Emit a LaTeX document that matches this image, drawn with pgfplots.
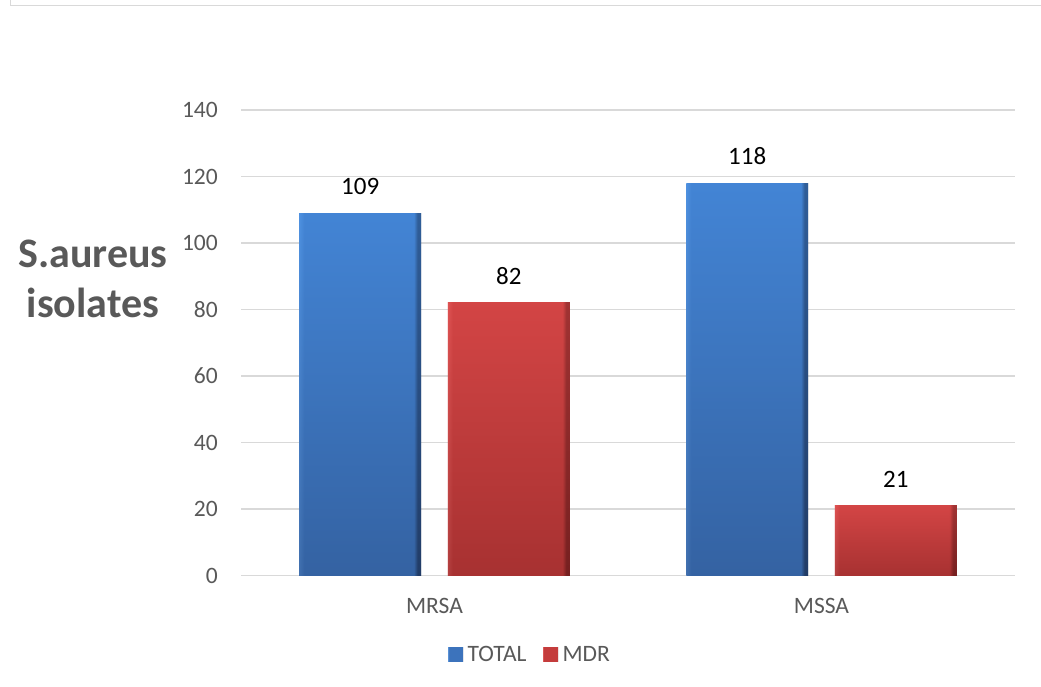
\documentclass[border=0pt]{standalone}
\usepackage{fontspec}
\setmainfont{Carlito}
\usepackage{pgfplots}
\pgfplotsset{compat=1.18}

\definecolor{tickgray}{HTML}{595959}
\definecolor{gridgray}{HTML}{D9D9D9}

% bar faces: a horizontal layer (light left rim, dark right rim) under a
% half-transparent vertical layer (light top, dark bottom)
\definecolor{totalL}{RGB}{84,140,210}
\definecolor{totalM}{RGB}{60,115,188}
\definecolor{totalR}{RGB}{22,38,68}
\definecolor{totalT}{RGB}{74,150,238}
\definecolor{totalB}{RGB}{46,83,138}
\definecolor{mdrL}{RGB}{218,88,88}
\definecolor{mdrM}{RGB}{196,60,60}
\definecolor{mdrR}{RGB}{96,24,24}
\definecolor{mdrT}{RGB}{226,78,78}
\definecolor{mdrB}{RGB}{140,40,40}

\pgfdeclarehorizontalshading{totalh}{100bp}{color(0bp)=(totalL); color(25bp)=(totalL);
  color(27bp)=(totalM); color(72bp)=(totalM); color(73.5bp)=(totalR); color(75bp)=(totalR);
  color(100bp)=(totalR)}
\pgfdeclarehorizontalshading{mdrh}{100bp}{color(0bp)=(mdrL); color(25bp)=(mdrL);
  color(27bp)=(mdrM); color(72bp)=(mdrM); color(73.5bp)=(mdrR); color(75bp)=(mdrR);
  color(100bp)=(mdrR)}

\newcommand{\chartfont}{\fontsize{23.5bp}{28bp}\selectfont}

\pgfplotsset{
  total base/.style={bar shift=-0.192, draw=none, shade, shading=totalh},
  total face/.style={bar shift=-0.192, draw=none, top color=totalT, bottom color=totalB,
     fill opacity=0.5, nodes near coords, forget plot},
  mdr base/.style={bar shift=0.192, draw=none, shade, shading=mdrh},
  mdr face/.style={bar shift=0.192, draw=none, top color=mdrT, bottom color=mdrB,
     fill opacity=0.5, nodes near coords, forget plot},
}

\begin{document}
\begin{tikzpicture}[x=1bp,y=1bp]
\path[use as bounding box] (0,0) rectangle (1041,687);
% chart area frame (top and left edges)
\draw[gridgray, line width=1.5bp] (10.5,687) -- (10.5,681.5) -- (1041,681.5);

\begin{axis}[
  at={(241bp,111.3bp)}, anchor=south west,
  scale only axis, width=774bp, height=465.7bp,
  xmin=-0.5, xmax=1.5, ymin=0, ymax=140,
  xtick={0,1}, xticklabels={MRSA,MSSA},
  ytick={0,20,...,140},
  axis line style={draw=none},
  major tick length=0pt,
  ymajorgrids, grid style={gridgray, line width=1.4bp},
  /pgf/number format/assume math mode=true,
  tick label style={font=\chartfont, text=tickgray, inner sep=0pt},
  yticklabel style={anchor=east, xshift=-23bp},
  xticklabel style={anchor=north, yshift=-22bp},
  ybar,
  bar width=0.315,
  every node near coord/.append style={anchor=south, inner sep=0pt, yshift=18bp,
     font=\fontsize{25bp}{30bp}\selectfont, text=black, text opacity=1,
     fill=none, draw=none},
  legend columns=2,
  legend style={at={(0.375,-0.170)}, anchor=center, draw=none, fill=none,
     font=\chartfont, text=tickgray, inner sep=0pt,
     nodes={inner xsep=4.5bp, inner ysep=2bp},
     /tikz/every even column/.append style={column sep=12bp}},
  legend image code/.code={\fill[#1] (0bp,-7bp) rectangle (15bp,7bp);},
]
% TOTAL: one plot per bar so that each face is shaded on its own
\addplot[total base] coordinates {(0,109)};
\addlegendentry{TOTAL}
\addplot[total face] coordinates {(0,109)};
\addplot[total base, forget plot] coordinates {(1,118)};
\addplot[total face] coordinates {(1,118)};
% MDR
\addplot[mdr base] coordinates {(0,82)};
\addlegendentry{MDR}
\addplot[mdr face] coordinates {(0,82)};
\addplot[mdr base, forget plot] coordinates {(1,21)};
\addplot[mdr face] coordinates {(1,21)};
\end{axis}

% axis title
\node[align=center, font=\fontsize{42bp}{50bp}\selectfont\bfseries, text=tickgray]
  at (93,408) {S.aureus\\isolates};
\end{tikzpicture}
\end{document}
